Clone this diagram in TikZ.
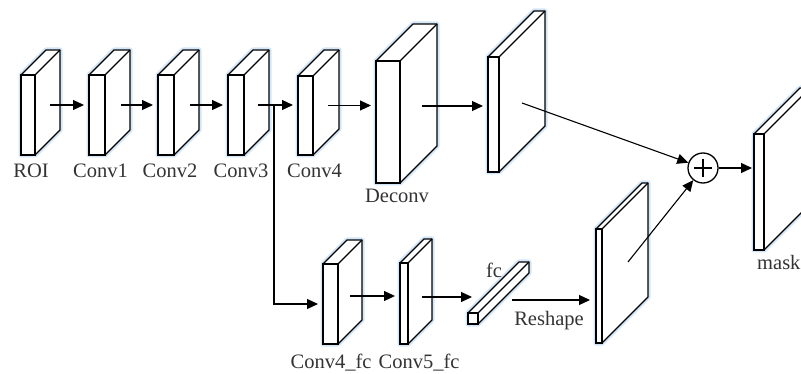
\documentclass[tikz,border=0pt]{standalone}
\usepackage{fontspec}
\setmainfont{Liberation Serif}
\usetikzlibrary{arrows.meta,calc}
\tikzset{
  front/.style={draw, fill=white, line width=1.4pt, inner sep=0pt, outer sep=0pt},
  side/.style={draw, fill=white, line width=1.4pt, line join=round},
  glow/.style={draw={rgb,255:red,210;green,230;blue,248}, line width=5pt, line join=round},
  arr/.style={-{Triangle[length=11pt,width=10pt]}, line width=1.1pt},
  lbl/.style={anchor=base, inner sep=0pt, text=black!80, font=\fontsize{20.5}{24}\selectfont},
}
% name, x-left, y-top, width, height, depth
\newcommand\blk[6]{%
  \draw[glow] (#2,#3) -- ++(#6,-#6) -- ++(#4,0) -- ++(0,#5) -- ++(-#6,#6) -- ++(-#4,0) -- cycle;
  \filldraw[side] (#2,#3) -- ++(#6,-#6) -- ++(#4,0) -- ++(0,#5) -- ++(-#6,#6) -- ++(0,-#5) -- cycle;
  \draw[side] (#2+#4,#3) -- ++(#6,-#6);
  \node[front, minimum width=#4pt, minimum height=#5pt] (#1) at (#2+#4/2,#3+#5/2) {};
}
\begin{document}
\begin{tikzpicture}[x=1pt,y=-1pt]
\useasboundingbox (0,0) rectangle (801,374);

% blocks
\blk{roi}{21}{75}{14}{80}{25}
\blk{conva}{89}{75}{16}{80}{25}
\blk{convb}{158}{75}{16}{80}{25}
\blk{convc}{228}{75}{16}{80}{25}
\blk{convd}{298}{76}{15}{79}{26}
\blk{deconv}{376}{61}{24}{122}{37}
\blk{pa}{488}{57}{11}{115}{46}
\blk{mask}{754}{134}{10}{116}{46}
\blk{pb}{596}{229}{6}{114}{46}
\blk{cfa}{323}{264}{15}{80}{24}
\blk{cfb}{400}{263}{8}{81}{24}
\blk{fc}{468}{313}{10}{11}{51}

% sum node
\node[circle, draw, line width=1.3pt, minimum size=30pt, inner sep=0pt] (plus) at (703,168) {};
\draw[line width=1.3pt] ([yshift=9pt]plus.center) -- ([yshift=-9pt]plus.center);
\draw[line width=1.3pt] ([xshift=-9pt]plus.center) -- ([xshift=9pt]plus.center);

% labels
\node[lbl] (lroi) at (31,178) {ROI};
\node[lbl] (lca) at (100.5,178) {Conv1};
\node[lbl] (lcb) at (170,178) {Conv2};
\node[lbl] (lcc) at (241,178) {Conv3};
\node[lbl] (lcd) at (314.5,178) {Conv4};
\node[lbl] (ldec) at (397,203) {Deconv};
\node[lbl] (lcfa) at (331,368) {Conv4\_fc};
\node[lbl] (lcfb) at (419,368) {Conv5\_fc};
\node[lbl] (lfc) at (494,278) {fc};
\node[lbl] (lresh) at (549,326) {Reshape};
\node[lbl, anchor=base west] (lmask) at (757,270) {mask};

% connector start points
\path ([xshift=15pt,yshift=10pt]roi.east) coordinate (s0);
\path ([xshift=16pt,yshift=10pt]conva.east) coordinate (s1);
\path ([xshift=16pt,yshift=10pt]convb.east) coordinate (s2);
\path ([xshift=14pt,yshift=10pt]convc.east) coordinate (s3);
\path ([xshift=30pt,yshift=10pt]convc.east) coordinate (br);
\path ([xshift=15pt,yshift=10pt]convd.east) coordinate (s4);
\path ([xshift=22pt,yshift=16pt]deconv.east) coordinate (s5);
\path ([xshift=23pt,yshift=11.5pt]pa.east) coordinate (s6);
\path ([xshift=26pt,yshift=24pt]pb.east) coordinate (s7);
\path ([xshift=12pt,yshift=8pt]cfa.east) coordinate (s8);
\path ([xshift=14pt,yshift=6.5pt]cfb.east) coordinate (s9);
\path ([xshift=34pt,yshift=18.5pt]fc.east) coordinate (s10);

\draw[arr, shorten >=5pt] (s0) -- (s0 -| conva.west);
\draw[arr, shorten >=5pt] (s1) -- (s1 -| convb.west);
\draw[arr, shorten >=5pt] (s2) -- (s2 -| convc.west);
\draw[arr, shorten >=5pt] (s3) -- (s3 -| convd.west);
\draw[arr, shorten >=5pt] (br) |- (cfa.west);
\draw[arr, shorten >=5pt] (s4) -- (s4 -| deconv.west);
\draw[arr, shorten >=5pt] (s5) -- (s5 -| pa.west);
\draw[arr] (s6) -- (plus);
\draw[arr] (s7) -- (plus);
\draw[arr, shorten >=2pt] (plus) -- (plus -| mask.west);
\draw[arr, shorten >=5pt] (s8) -- (s8 -| cfb.west);
\draw[arr] (s9) -- ($(s9 -| fc.west)+(4,0)$);
\draw[arr, shorten >=6pt] (s10) -- (s10 -| pb.west);
\end{tikzpicture}
\end{document}
